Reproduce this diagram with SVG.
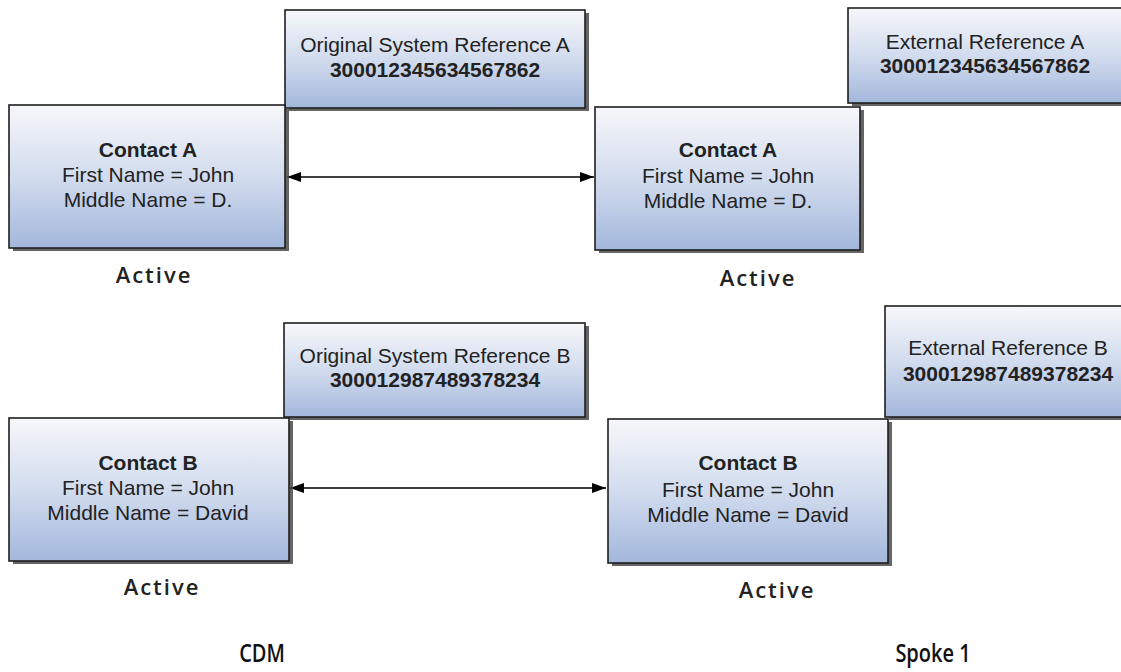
<svg xmlns="http://www.w3.org/2000/svg" width="1121" height="672" viewBox="0 0 1121 672">
<style>
.box{fill:url(#g);stroke:#1e1e1e;stroke-width:1.6}
.sh{fill:#4a4a4a;opacity:.85}
.t{font-family:"Liberation Sans",Arial,sans-serif;font-size:21px;fill:#222;text-anchor:middle}
.b{font-weight:bold}
.st{font-family:"Open Sans","DejaVu Sans",sans-serif;font-weight:600;font-size:22px;letter-spacing:2px;fill:#222;text-anchor:middle}
.lbl{font-family:"Open Sans","DejaVu Sans",sans-serif;font-weight:600;font-size:25px;fill:#111;text-anchor:middle}
.c{stroke:#000;stroke-width:1.6;fill:none;marker-start:url(#a);marker-end:url(#a)}
</style>
<defs>
<linearGradient id="g" x1="0" y1="0" x2="0" y2="1">
<stop offset="0" stop-color="#f6f7fa"/>
<stop offset="0.5" stop-color="#d2dcee"/>
<stop offset="1" stop-color="#a3b7dc"/>
</linearGradient>
<marker id="a" viewBox="0 0 14 10" refX="14" refY="5" markerWidth="14" markerHeight="10" markerUnits="userSpaceOnUse" orient="auto-start-reverse">
<path d="M0,0 L14,5 L0,10 Z" fill="#000"/>
</marker>
</defs>

<g id="connectors">
<path class="c" d="M287,177 H594"/>
<path class="c" d="M290,488 H606"/>
</g>

<g id="ref-orig-a">
<rect class="sh" x="289" y="13" width="300" height="98"/>
<rect class="box" x="285" y="10" width="300" height="98"/>
<text class="t" x="435" y="52">Original System Reference A</text>
<text class="t b" x="435" y="77">300012345634567862</text>
</g>

<g id="contact-a-cdm">
<rect class="sh" x="13" y="108" width="276" height="143"/>
<rect class="box" x="9" y="105" width="276" height="143"/>
<text class="t b" x="148" y="157">Contact A</text>
<text class="t" x="148" y="182">First Name = John</text>
<text class="t" x="148" y="207">Middle Name = D.</text>
</g>

<g id="ref-ext-a">
<rect class="sh" x="852" y="11" width="280" height="95"/>
<rect class="box" x="848" y="8" width="280" height="95"/>
<text class="t" x="985" y="49">External Reference A</text>
<text class="t b" x="985" y="73">300012345634567862</text>
</g>

<g id="contact-a-spoke">
<rect class="sh" x="599" y="110" width="265" height="143"/>
<rect class="box" x="595" y="107" width="265" height="143"/>
<text class="t b" x="728" y="157">Contact A</text>
<text class="t" x="728" y="183">First Name = John</text>
<text class="t" x="728" y="208">Middle Name = D.</text>
</g>

<text class="st" x="154" y="283">Active</text>
<text class="st" x="758" y="286">Active</text>

<g id="ref-orig-b">
<rect class="sh" x="288" y="326" width="301" height="94"/>
<rect class="box" x="284" y="323" width="301" height="94"/>
<text class="t" x="435" y="363">Original System Reference B</text>
<text class="t b" x="435" y="387">300012987489378234</text>
</g>

<g id="contact-b-cdm">
<rect class="sh" x="13" y="421" width="280" height="143"/>
<rect class="box" x="9" y="418" width="280" height="143"/>
<text class="t b" x="148" y="470">Contact B</text>
<text class="t" x="148" y="495">First Name = John</text>
<text class="t" x="148" y="520">Middle Name = David</text>
</g>

<g id="ref-ext-b">
<rect class="sh" x="889" y="309" width="250" height="111"/>
<rect class="box" x="885" y="306" width="250" height="111"/>
<text class="t" x="1008" y="355">External Reference B</text>
<text class="t b" x="1008" y="381">300012987489378234</text>
</g>

<g id="contact-b-spoke">
<rect class="sh" x="612" y="422" width="280" height="144"/>
<rect class="box" x="608" y="419" width="280" height="144"/>
<text class="t b" x="748" y="470">Contact B</text>
<text class="t" x="748" y="497">First Name = John</text>
<text class="t" x="748" y="522">Middle Name = David</text>
</g>

<text class="st" x="162" y="595">Active</text>
<text class="st" x="777" y="598">Active</text>

<text class="lbl" transform="translate(262,662) scale(0.8,1)">CDM</text>
<text class="lbl" transform="translate(933,662) scale(0.8,1)">Spoke 1</text>
</svg>
